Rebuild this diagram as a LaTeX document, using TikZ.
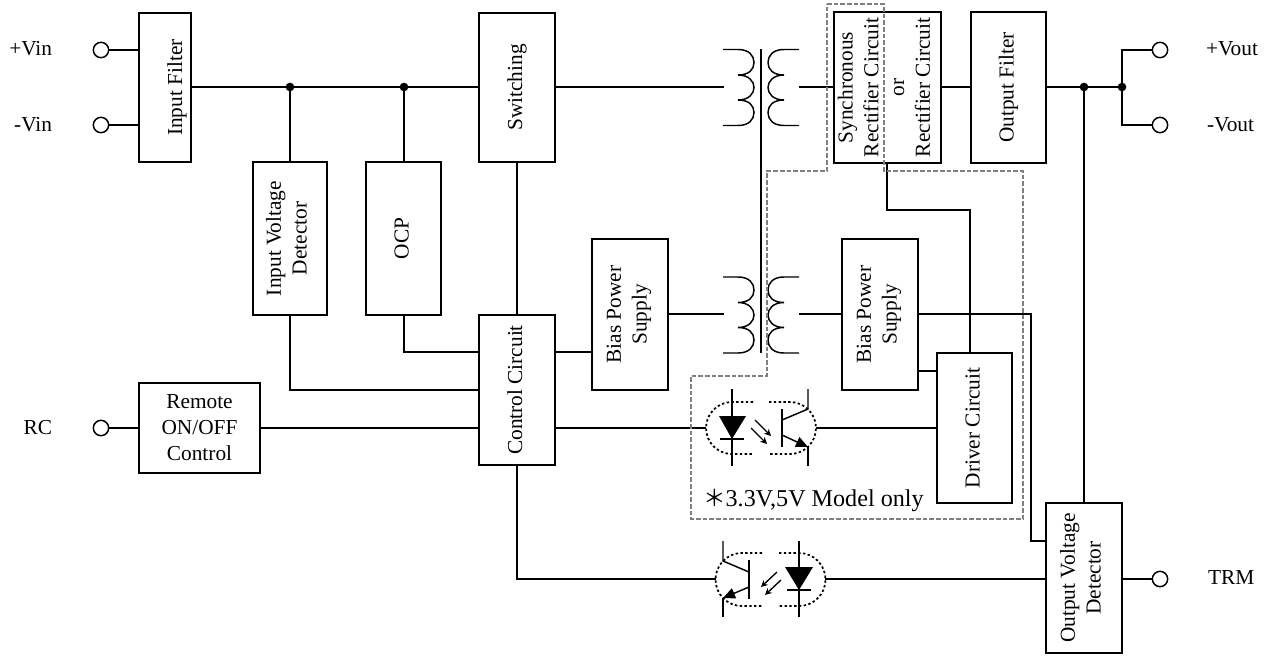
\documentclass[tikz,border=0pt]{standalone}
\usepackage{fontspec}
\setmainfont{Liberation Serif}
\newfontfamily\cjkstar{Noto Sans CJK JP}
\usetikzlibrary{arrows.meta}
\tikzset{
  every node/.style={inner sep=0pt,outer sep=0pt},
  wire/.style={line width=1.1pt,line cap=butt,line join=miter},
  box/.style 2 args={draw,line width=1.1pt,minimum width=#1*0.75pt,minimum height=#2*0.75pt,align=center,font=\fontsize{16}{19.3}\selectfont},
  term/.style={circle,draw,line width=1.1pt,fill=white,minimum size=11.5pt},
  lab/.style={font=\fontsize{16}{19}\selectfont},
  jdot/.style={circle,fill=black,minimum size=6.5pt},
  optoline/.style={line width=1.3pt,dash pattern=on 1.8pt off 1.8pt},
  fence/.style={gray,line width=0.9pt,dash pattern=on 3.5pt off 1.5pt},
  lightray/.style={line width=1pt,-{Stealth[length=5pt,width=5pt]}},
  coil/.pic={\draw[wire] (0,-38) -- (15,-38) .. controls (26,-38) and (31,-32) .. (31,-25) .. controls (31,-18) and (26,-12.5) .. (15,-12.5)
     .. controls (26,-12.5) and (31,-6) .. (31,0) .. controls (31,6) and (26,12.5) .. (15,12.5)
     .. controls (26,12.5) and (31,18) .. (31,25) .. controls (31,32) and (26,38) .. (15,38) -- (0,38);}
}
\newcommand{\vtxt}[2][0pt]{\leavevmode\kern#1\rotatebox{90}{\begin{tabular}{@{}c@{}}#2\end{tabular}}\kern-#1\relax}
\begin{document}
\begin{tikzpicture}[x=0.75pt,y=-0.75pt]
\useasboundingbox (0,0) rectangle (1275,657);
% boxes
\node[box={52}{149}] (filter) at (165,87.5) {\vtxt[9pt]{Input Filter}};
\node[box={76}{149}] (switch) at (517,87.5) {\vtxt{Switching}};
\node[box={74}{153}] (ivd) at (290,238.5) {\vtxt[-1.1pt]{Input Voltage\\Detector}};
\node[box={75}{153}] (ocp) at (403.5,238.5) {\vtxt{OCP}};
\node[box={76}{150}] (ctrl) at (517,390) {\vtxt{Control Circuit}};
\node[box={76}{151}] (biasL) at (630,314.5) {\vtxt[-1.1pt]{Bias Power\\Supply}};
\node[box={76}{151}] (biasR) at (880,314.5) {\vtxt[-1.1pt]{Bias Power\\Supply}};
\node[box={75}{150}] (driver) at (974.5,428) {\vtxt{Driver Circuit}};
\node[box={121}{90},font=\fontsize{16}{19.5}\selectfont] (remote) at (199.5,428) {Remote\\ON/OFF\\Control};
\node[box={107}{151}] (sync) at (887.5,87.5) {\vtxt[-1.1pt]{Synchronous\\Rectifier Circuit\\or\\Rectifier Circuit}};
\node[box={75}{151}] (ofilter) at (1008.5,87.5) {\vtxt{Output Filter}};
\node[box={76}{150}] (ovd) at (1084,578) {\vtxt[-1.1pt]{Output Voltage\\Detector}};
% terminals and labels
\node[term] (tVinP) at (101,50) {};
\node[term] (tVinN) at (101,125) {};
\node[term] (tRC) at (101,428) {};
\node[term] (tVoutP) at (1160,50) {};
\node[term] (tVoutN) at (1160,125) {};
\node[term] (tTRM) at (1160,579) {};
\node[lab,anchor=east] (lVinP) at (52,49) {+Vin};
\node[lab,anchor=east] (lVinN) at (52,125) {-Vin};
\node[lab,anchor=east] (lRC) at (52,428) {RC};
\node[lab,anchor=west] (lVoutP) at (1206,49) {+Vout};
\node[lab,anchor=west] (lVoutN) at (1207,125) {-Vout};
\node[lab,anchor=west] (lTRM) at (1208,578) {TRM};
\node[anchor=base west,font=\fontsize{18.1}{20}\selectfont] (lnote) at (703,506) {{\cjkstar\fontsize{17}{20}\selectfont ＊}3.3V,5V Model only};
% junctions
\node[jdot] (j1) at (290,87) {};
\node[jdot] (j2) at (404,87) {};
\node[jdot] (j3) at (1084,87) {};
\node[jdot] (j4) at (1122,87) {};
% named free ends
\coordinate (t1L) at (724,87);
\coordinate (t1R) at (799,87);
\coordinate (t2L) at (724,314);
\coordinate (t2R) at (799,314);
\coordinate (o1L) at (706,428);
\coordinate (o1R) at (816,428);
\coordinate (o2L) at (716,579);
\coordinate (o2R) at (825,579);
% transformers
\pic at (723,87.5) {coil};
\pic[xscale=-1] at (799,87.5) {coil};
\pic at (723,315) {coil};
\pic[xscale=-1] at (799,315) {coil};
\coordinate (coreT) at (761,49);
\coordinate (coreB) at (761,353);
\draw[wire] (coreT) -- (coreB);
% wires
\draw[wire] (tVinP) -- (tVinP -| filter.west);
\draw[wire] (tVinN) -- (tVinN -| filter.west);
\draw[wire] (filter.east |- j1) -- (j1) -- (j2) -- (j2 -| switch.west);
\draw[wire] (j1) -- (j1 |- ivd.north);
\draw[wire] (j2) -- (j2 |- ocp.north);
\draw[wire] (switch.south) -- (ctrl.north);
\draw[wire] (switch.east |- t1L) -- (t1L);
\draw[wire] (t1R) -- (t1R -| sync.west);
\draw[wire] (sync.east |- j3) -- (ofilter.west |- j3);
\draw[wire] (ofilter.east |- j3) -- (j3) -- (j4);
\draw[wire] (tVoutP) -| (j4) |- (tVoutN);
\draw[wire] (j3) -- (j3 |- ovd.north);
\draw[wire] (ocp.south -| j2) -- ++(0,37) coordinate (a1) -- (a1 -| ctrl.west);
\draw[wire] (ivd.south) -- ++(0,75) coordinate (a2) -- (a2 -| ctrl.west);
\draw[wire] (tRC) -- (tRC -| remote.west);
\draw[wire] (remote.east |- tRC) -- (tRC -| ctrl.west);
\coordinate (a3) at (555,352);
\draw[wire] (a3) -- (a3 -| biasL.west);
\draw[wire] (biasL.east |- t2L) -- (t2L);
\draw[wire] (t2R) -- (t2R -| biasR.west);
\draw[wire] (ctrl.east |- o1L) -- (o1L);
\draw[wire] (o1R) -- (o1R -| driver.west);
\draw[wire] (ctrl.south) |- (o2L);
\draw[wire] (o2R) -- (o2R -| ovd.west);
\coordinate (s1) at (887,163);
\coordinate (s2) at (887,210);
\coordinate (s3) at (970,353);
\draw[wire] (s1) -- (s2) -| (s3);
\coordinate (b1) at (918,314);
\coordinate (b2) at (1031,541);
\draw[wire] (b1) -| (b2) -- (b2 -| ovd.west);
\coordinate (b3) at (918,371);
\draw[wire] (b3) -- (b3 -| driver.west);
\draw[wire] (ovd.east |- tTRM) -- (tTRM);
% optocoupler 1 (upper)
\draw[optoline] (753,402) -- (732,402) arc[start angle=270,end angle=90,radius=26] -- (753,454);
\draw[optoline] (769,402) -- (790,402) arc[start angle=-90,end angle=90,radius=26] -- (769,454);
\draw[wire] (732,389) -- (732,466);
\fill (719,416) -- (746,416) -- (732,439) -- cycle;
\draw[wire] (720,439) -- (744,439);
\draw[lightray] (755,420) -- (771,436);
\draw[lightray] (751,428) -- (767,444);
\draw[wire] (782,409) -- (782,447);
\draw[wire] (808,389) -- (808,409) -- (782,420);
\draw[wire] (808,466) -- (808,447);
\draw[wire,-{Triangle[length=9pt,width=8pt]}] (782,435) -- (808,447);
% optocoupler 2 (lower)
\draw[optoline] (762,553) -- (742,553) arc[start angle=270,end angle=90,radius=26.5] -- (762,606);
\draw[optoline] (779,553) -- (799,553) arc[start angle=-90,end angle=90,radius=26.5] -- (779,606);
\draw[wire] (799,541) -- (799,617);
\fill (785,567) -- (813,567) -- (799,590) -- cycle;
\draw[wire] (787,590) -- (811,590);
\draw[lightray] (777,572) -- (761,587);
\draw[lightray] (781,580) -- (765,595);
\draw[wire] (749,560) -- (749,599);
\draw[wire] (723,541) -- (723,561) -- (749,572);
\draw[wire] (723,617) -- (723,598);
\draw[wire,-{Triangle[length=9pt,width=8pt]}] (749,587) -- (723,598);
% dashed fence
\draw[fence] (827,4) -- (884,4) -- (884,171) -- (1023,171) -- (1023,519) -- (691,519) -- (691,376) -- (767,376) -- (767,171) -- (827,171) -- cycle;
\end{tikzpicture}
\end{document}
